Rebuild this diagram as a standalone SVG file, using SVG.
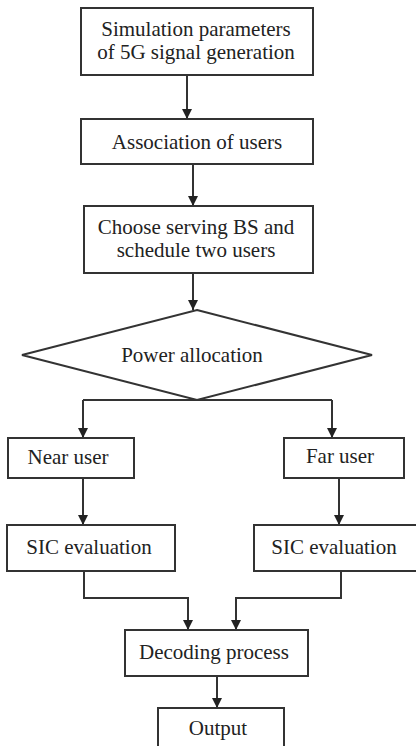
<svg xmlns="http://www.w3.org/2000/svg" width="416" height="746" viewBox="0 0 416 746">
  <style>
    .box { fill: #ffffff; stroke: #333333; stroke-width: 2; }
    .lbl { font-family: "Liberation Serif", "Times New Roman", serif; font-size: 21px; fill: #222222; text-anchor: middle; }
    .wire { fill: none; stroke: #333333; stroke-width: 2; marker-end: url(#head); }
    .wire-plain { fill: none; stroke: #333333; stroke-width: 2; }
  </style>
  <defs>
    <marker id="head" viewBox="0 0 10 10" refX="10" refY="5" markerWidth="5" markerHeight="5" markerUnits="strokeWidth" orient="auto">
      <path d="M0,0 L10,5 L0,10 z" fill="#222222"/>
    </marker>
  </defs>
  <rect width="416" height="746" fill="#ffffff"/>

  <g id="connectors">
    <path class="wire" d="M187,75 V119"/>
    <path class="wire" d="M193,164 V206"/>
    <path class="wire" d="M193,273 V310"/>
    <path class="wire-plain" d="M83,400 H332"/>
    <path class="wire" d="M83,400 V438"/>
    <path class="wire" d="M332,400 V438"/>
    <path class="wire" d="M83,478 V525"/>
    <path class="wire" d="M339,478 V525"/>
    <path class="wire" d="M84,571 V598 H188 V630"/>
    <path class="wire" d="M341,571 V598 H236 V630"/>
    <path class="wire" d="M217,676 V708"/>
  </g>

  <g id="sim-params">
    <rect class="box" x="81" y="8" width="232" height="67"/>
    <text class="lbl" x="196" y="36">Simulation parameters</text>
    <text class="lbl" x="196" y="59">of 5G signal generation</text>
  </g>

  <g id="association">
    <rect class="box" x="81" y="119" width="232" height="45"/>
    <text class="lbl" x="197" y="149">Association of users</text>
  </g>

  <g id="schedule">
    <rect class="box" x="84" y="206" width="229" height="67"/>
    <text class="lbl" x="196" y="234">Choose serving BS and</text>
    <text class="lbl" x="196" y="257">schedule two users</text>
  </g>

  <g id="power">
    <polygon class="box" points="197,310 372,355 197,400 22,355"/>
    <text class="lbl" x="192" y="362">Power allocation</text>
  </g>

  <g id="near-user">
    <rect class="box" x="8" y="438" width="126" height="40"/>
    <text class="lbl" x="68" y="464">Near user</text>
  </g>

  <g id="far-user">
    <rect class="box" x="284" y="438" width="120" height="40"/>
    <text class="lbl" x="340" y="463">Far user</text>
  </g>

  <g id="sic-near">
    <rect class="box" x="7" y="525" width="168" height="46"/>
    <text class="lbl" x="89" y="554">SIC evaluation</text>
  </g>

  <g id="sic-far">
    <rect class="box" x="254" y="525" width="170" height="46"/>
    <text class="lbl" x="334" y="554">SIC evaluation</text>
  </g>

  <g id="decoding">
    <rect class="box" x="125" y="630" width="183" height="46"/>
    <text class="lbl" x="214" y="659">Decoding process</text>
  </g>

  <g id="output">
    <rect class="box" x="158" y="708" width="126" height="48"/>
    <text class="lbl" x="218" y="735">Output</text>
  </g>
</svg>
